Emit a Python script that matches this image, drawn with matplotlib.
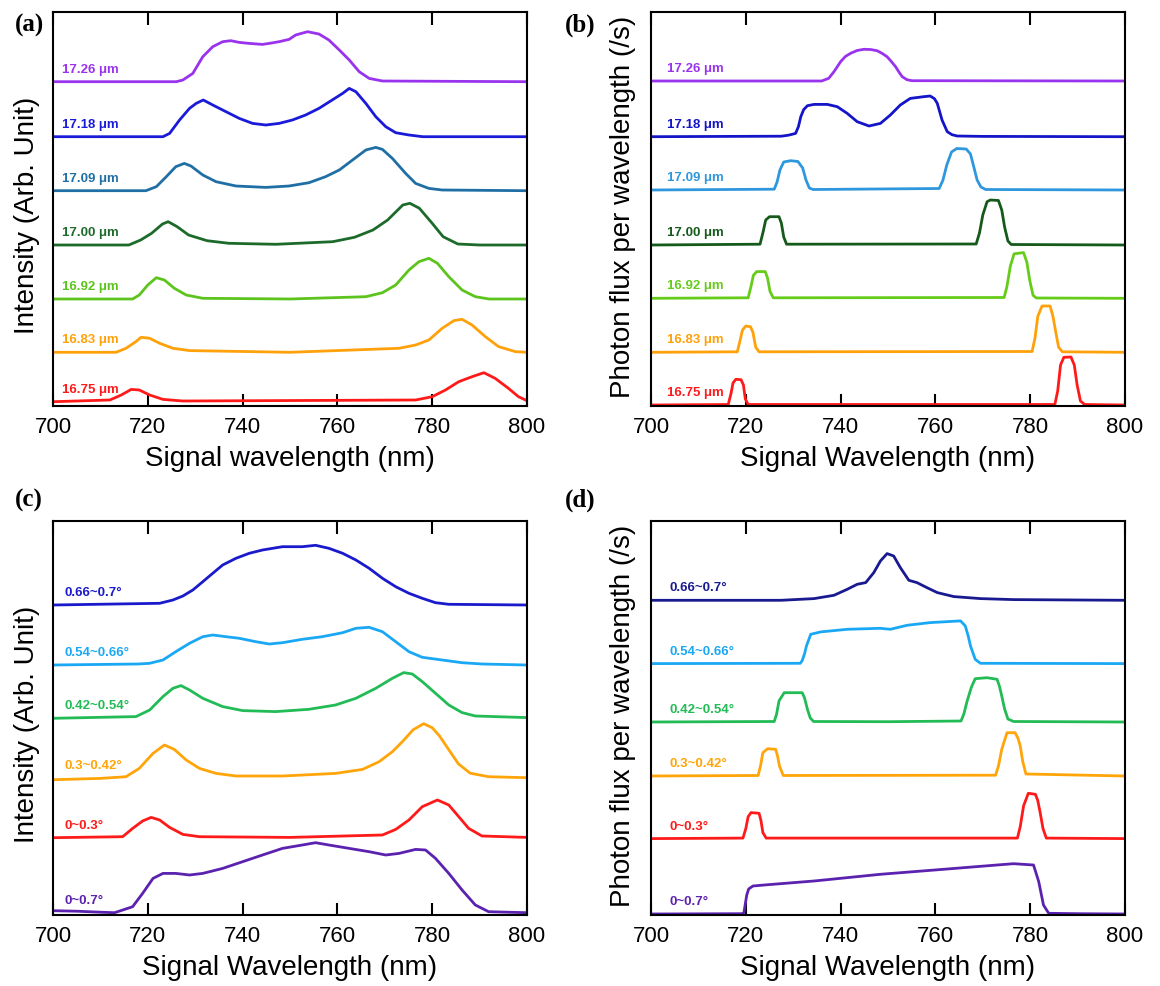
import numpy as np
import matplotlib.pyplot as plt

plt.rcParams['font.family'] = ['Liberation Sans', 'DejaVu Sans']

# ---------------- (a) measured spectra vs. poling period ----------------
a_labels = ['16.75 μm', '16.83 μm', '16.92 μm', '17.00 μm', '17.09 μm', '17.18 μm', '17.26 μm']
a_colors = ['#ff1a1a', '#ffa10a', '#5cc41c', '#1d6b2a', '#1f6fa5', '#1a1ad9', '#9933ee']
a_offsets = [4.3, 53.7, 107, 161, 215.3, 269.3, 324.3]

a_1675_x = [700, 712, 714.4, 716.5, 718.2, 720.4, 723.2, 727.4, 776.5, 780, 782.8, 785.6, 788.4, 790.9, 793.3, 796.1, 798.2, 800]
a_1675_y = [0, 1.7, 6.7, 12.3, 11.7, 6.7, 2.3, 0.7, 1.7, 5, 11.7, 20, 25, 29, 23.3, 13.3, 5, 1]
a_1683_x = [700, 713.3, 715.4, 717.5, 718.6, 720.4, 722.5, 725.3, 728.8, 750, 773, 776.5, 779.3, 782.1, 784.6, 786.3, 788.4, 791.2, 794, 797.5, 800]
a_1683_y = [0, 0, 4, 10.7, 15, 14, 9, 4, 1.7, 0, 4, 7.3, 12.3, 24, 31.7, 33, 27.3, 15.7, 5.7, 0.7, 0]
a_1692_x = [700, 716.8, 718.2, 720, 721.8, 723.5, 725.6, 728.1, 731.6, 750, 766, 769.5, 772.3, 775.1, 777.2, 779.3, 781.1, 783.5, 786.3, 789.1, 792, 800]
a_1692_y = [0, 0, 4, 14, 21.3, 19, 10.7, 4, 0.7, 0, 2.3, 6.3, 14, 29, 37.3, 40.7, 35.7, 22.3, 9, 2.3, 0, 0]
a_1700_x = [700, 716, 718.5, 720.8, 723.1, 724.3, 726.2, 728.6, 732.5, 737.1, 747, 759, 763.6, 767.5, 770.6, 773.8, 775.3, 777.3, 780, 782.3, 785.4, 790, 800]
a_1700_y = [0, 0, 5, 11.7, 21, 23.3, 18.3, 10, 4.3, 1.7, 0.7, 3.3, 7.7, 15, 25, 40, 41.7, 36.7, 21.7, 8.3, 1, 0, 0]
a_1709_x = [700, 719.6, 721.8, 723.9, 725.9, 727.7, 729.1, 731.6, 734.4, 738.6, 744.9, 749.8, 754, 757.5, 760.4, 763.2, 766, 768.1, 769.5, 771.6, 774.4, 776.5, 779.3, 782.1, 800]
a_1709_y = [0, 0, 4, 14, 24, 27.3, 24.7, 15.7, 9, 4.7, 3.3, 4.7, 8, 14, 20.7, 30.7, 40.7, 43.3, 41.3, 32.3, 17.3, 7.3, 2.3, 0.7, 0]
a_1718_x = [700, 723.2, 724.6, 726.7, 728.8, 730.2, 731.7, 733.7, 736.5, 739.3, 742.1, 744.9, 747.7, 750.5, 753.3, 756.1, 758.9, 761.1, 762.5, 763.9, 766, 768.1, 770.2, 772.3, 775.1, 778, 800]
a_1718_y = [0, 0, 3.3, 16.7, 28.3, 33.3, 36.7, 31.7, 25, 18.3, 13.3, 11.7, 13.3, 16.7, 21.7, 28.3, 36.7, 43.3, 48.3, 45, 33.3, 20, 10, 4, 1.7, 0, 0]
a_1726_x = [700, 726, 727.4, 729.5, 731.6, 733.7, 735.8, 737.5, 739.3, 741.4, 744.2, 745.6, 747.7, 749.8, 751.2, 753.7, 756.1, 758.2, 760.4, 762.5, 764.6, 766.7, 769.5, 800]
a_1726_y = [0, 0, 1.7, 8.3, 25, 35, 40, 41, 39.3, 38.3, 37.3, 38.3, 40, 42.3, 46.7, 50, 47.7, 41.7, 31.7, 21.7, 10, 3.3, 0.7, 0]

# ---------------- (b) simulated photon flux vs. poling period ----------------
b_labels = a_labels
b_colors = ['#ff1a1a', '#ffa10a', '#66cc1a', '#155a1a', '#2e97dd', '#1414c8', '#9933ee']
b_offsets = [1, 53.7, 107.7, 161, 216, 269.3, 325]

b_1675_x = [700, 716.3, 716.9, 717.3, 717.9, 719.0, 719.5, 719.9, 720.5, 785.2, 785.8, 786.4, 787.1, 788.6, 789.3, 789.9, 790.6, 791.5, 800]
b_1675_y = [0, 0.5, 12, 22, 25.7, 25.3, 20, 6, 0.5, 0.5, 14, 40, 47.7, 48, 40, 20, 4, 0.5, 0]
b_1683_x = [700, 718.2, 718.8, 719.3, 720, 721, 721.5, 722.1, 722.8, 780.4, 781, 781.6, 782.5, 784.2, 784.8, 785.4, 786, 786.8, 800]
b_1683_y = [0, 0.5, 12, 22.3, 26.3, 25.5, 20, 5, 0.5, 0.8, 14, 36, 46.3, 46.3, 36, 20, 5, 0.5, 0]
b_1692_x = [700, 720.5, 721.1, 721.6, 722.3, 724.1, 724.6, 725.1, 725.8, 774.5, 775.1, 775.8, 776.6, 778.6, 779.3, 779.9, 780.6, 781.3, 800]
b_1692_y = [0, 0.5, 12, 23, 26.7, 26.7, 20, 7, 0.5, 0.8, 12, 32, 44.5, 45.7, 36, 18, 3, 0.3, 0]
b_1700_x = [700, 723, 723.6, 724.2, 725, 727, 727.5, 728, 728.6, 768.6, 769.3, 770, 770.9, 771.6, 773.3, 774, 774.6, 775.3, 776, 800]
b_1700_y = [0, 0.8, 12, 25, 28.3, 28.3, 22, 8, 0.8, 1, 12, 30, 43.3, 45, 44.5, 35, 18, 4, 0.5, 0]
b_1709_x = [700, 726, 726.6, 727.2, 728, 729.5, 731, 732, 732.7, 733.4, 734.2, 760.8, 761.6, 762.4, 763.4, 764.5, 766.5, 767.4, 768, 768.8, 769.6, 770.6, 800]
b_1709_y = [0, 0.8, 8, 20, 28, 29.3, 28.5, 22, 10, 2, 0.5, 1.5, 10, 25, 38, 41.5, 41, 36, 25, 10, 3, 0.5, 0]
b_1718_x = [700, 727.5, 729, 730.5, 731.1, 731.6, 732.2, 733, 734.4, 737.2, 739.3, 741.4, 743.5, 746, 748.4, 750.5, 752.6, 754.7, 757.5, 758.9, 759.8, 760.4, 761.4, 762.5, 763.5, 764.6, 770, 800]
b_1718_y = [0, 0.5, 1.5, 3.3, 10, 20, 27, 31, 32.3, 32.3, 30, 23.3, 15, 10.7, 13.3, 21.7, 31.7, 38.3, 40, 40.7, 38, 33.3, 16.7, 5, 2, 0.7, 0.3, 0]
b_1726_x = [700, 736, 737.5, 738.6, 740, 741, 742.1, 743.5, 744.9, 746.3, 747.7, 748.8, 749.8, 750.7, 751.6, 752.3, 753, 754, 755, 800]
b_1726_y = [0, 0, 2.7, 9.3, 19.3, 24.5, 27.7, 30.5, 31.7, 31.5, 30.3, 27.5, 24.3, 19.5, 14.3, 9, 4.3, 1.3, 0.3, 0]

# ---------------- (c) measured spectra vs. collection angle ----------------
c_labels = ['0~0.7°', '0~0.3°', '0.3~0.42°', '0.42~0.54°', '0.54~0.66°', '0.66~0.7°']
c_colors = ['#5b22b0', '#ff1a1a', '#ffa50a', '#22bb55', '#1aa8f5', '#1a1acc']
c_offsets = [2.3, 77.3, 137.3, 196.7, 250, 310]

c_a1_x = [700, 705, 710, 713, 716.8, 718.9, 721.1, 723.2, 725.9, 728.8, 731.6, 735.8, 740, 744.2, 748.4, 752.6, 755.4, 758.2, 762.5, 766.7, 770.2, 773, 776.5, 778.6, 780.7, 783.5, 786.3, 789.1, 791.9, 800]
c_a1_y = [2, 1.5, 0.5, 0, 6, 19.3, 34.3, 39.3, 39.3, 37.7, 39.3, 44.3, 51, 57.7, 64.3, 67.7, 70, 67.7, 64.3, 61, 57.7, 59.3, 63.3, 62.7, 54.3, 39.3, 22.7, 7.7, 1, 0]
c_a2_x = [700, 714.7, 716.8, 718.9, 720.7, 722.5, 724.6, 727.4, 730.9, 750, 769.5, 772.3, 775.1, 777.9, 781.1, 783.5, 785.6, 787.7, 790.5, 800]
c_a2_y = [0, 1, 9.3, 16.7, 20.3, 17.7, 10.3, 3.3, 1, 0.3, 2.7, 8.3, 17.7, 31, 37.7, 32.7, 21, 9.3, 1.7, 0.3]
c_a3_x = [700, 710, 715.4, 718.2, 721.1, 723.5, 725.6, 728.1, 730.9, 734.4, 738.6, 748.4, 759.6, 765.3, 768.8, 771.6, 773.7, 776, 778.2, 780, 781.5, 783.5, 785.5, 788, 791.9, 800]
c_a3_y = [-2, -0.7, 1, 9.3, 24.3, 32.7, 28.3, 17.7, 9.3, 4.3, 1.7, 1.7, 4.3, 8.3, 16, 26, 36, 48, 54, 50, 42, 28, 14, 4.5, 1, 0]
c_a4_x = [700, 717.5, 720.4, 723.2, 725.3, 727, 728.8, 731.6, 735.8, 740, 747, 754, 759.6, 763.9, 768.1, 771.6, 774, 775.8, 777.9, 780.7, 783.5, 786.3, 789.1, 800]
c_a4_y = [0, 1.7, 8.3, 21.7, 30, 32.7, 28.3, 20, 11.7, 7.7, 6.7, 9, 13.3, 20, 30, 40, 45.7, 44.3, 36.7, 25, 13.3, 5.7, 2.3, 0.7]
c_a5_x = [700, 718, 720.4, 723.2, 725.9, 728.8, 731.6, 733.7, 736.5, 739.3, 742.8, 745.6, 748.4, 752.6, 756.8, 761.1, 763.9, 766.7, 769.5, 772.3, 775.1, 777.9, 782.1, 786.3, 790.5, 800]
c_a5_y = [0, 1, 1.7, 5, 13.3, 21.7, 28.3, 30, 28.3, 26.7, 23.3, 21, 22.3, 25.7, 28.3, 32.3, 36.7, 37.7, 33.3, 23.3, 13.3, 7.7, 5, 2.3, 1, 0]
c_a6_x = [700, 722.5, 725.3, 727.4, 729.5, 731.6, 733.7, 735.8, 738.6, 741.4, 744.2, 748.4, 752.6, 755.4, 758.2, 761.1, 763.9, 766.7, 769.5, 772.3, 775.1, 777.9, 780.7, 783.5, 800]
c_a6_y = [0, 1.7, 5, 9, 15, 23.3, 31.7, 40, 46.7, 51.7, 55, 58.3, 58.3, 59.7, 56.7, 51.7, 45, 36.7, 26.7, 18.3, 11.7, 6.7, 2.3, 0.7, 0]

# ---------------- (d) simulated photon flux vs. collection angle ----------------
d_labels = c_labels
d_colors = ['#5b22b0', '#ff1a1a', '#ffa50a', '#22bb55', '#1aa8f5', '#1a1a90']
d_offsets = [1, 76.4, 139, 193, 251.4, 314.7]

d_a1_x = [700, 719.2, 719.6, 720.2, 720.6, 721.5, 723.9, 734.4, 748.4, 762.5, 773, 776.5, 780.7, 781.8, 782.8, 783.9, 790, 800]
d_a1_y = [0, 0.3, 1.3, 19, 25, 28, 29, 33, 39.7, 45, 49, 50.3, 49, 32.3, 9, 0.7, 0.3, 0]
d_a2_x = [700, 719.4, 720, 720.5, 721.1, 722.8, 723.2, 723.6, 724.3, 777.3, 777.9, 778.6, 779.6, 781.1, 781.6, 782.1, 782.7, 783.4, 800]
d_a2_y = [0, 0.5, 10, 22, 26, 25.3, 18, 6, 0.5, 0.5, 12, 32.7, 45.3, 44.3, 38, 26, 10, 0.5, 0]
d_a3_x = [700, 722.6, 723.1, 723.6, 724.6, 726.3, 726.7, 727.1, 727.9, 772.7, 773.3, 774, 775.1, 776.8, 777.4, 777.9, 778.4, 779.1, 800]
d_a3_y = [0, 0.5, 10, 23.3, 27.3, 26.7, 20, 10, 0.5, 0.8, 10, 26.7, 43.3, 43.3, 38, 30, 15, 2, 0]
d_a4_x = [700, 726, 726.5, 727, 728.1, 731.9, 732.4, 733, 733.6, 734.3, 750, 765.4, 766, 766.7, 767.6, 768.4, 770.9, 773, 773.5, 774, 774.6, 775.3, 776.5, 800]
d_a4_y = [0, 0.5, 8, 21, 29.3, 29.3, 24, 12.7, 4, 0.5, 0.3, 1, 8, 21, 35, 43.3, 44.3, 42.7, 36, 26, 13, 3, 0.5, 0]
d_a5_x = [700, 731.5, 731.9, 732.4, 732.8, 733.7, 735.8, 741.4, 748.4, 750.5, 754, 758.9, 765.3, 766.3, 766.9, 767.4, 768.4, 769.5, 800]
d_a5_y = [0, 0.3, 3, 10, 17.7, 29.3, 31.7, 34.3, 35.3, 34.3, 38.3, 41, 42.7, 37.7, 28, 17.7, 4.3, 0.3, 0]
d_a6_x = [700, 727.4, 734.4, 738.6, 741.4, 743.5, 745.3, 747, 748.4, 749.8, 751.2, 752.6, 754.4, 756.1, 758.2, 760.4, 763.9, 769.5, 776.5, 800]
d_a6_y = [0, 0, 1.7, 5, 11, 16, 17.7, 27.7, 39.3, 46.7, 44.3, 32.7, 20, 17.7, 12.7, 7.7, 3.7, 1.7, 0.7, 0]

panels = [
    ('(a)', 'Signal wavelength (nm)', 'Intensity (Arb. Unit)', a_labels, a_colors, a_offsets, 702.0,
     [(a_1675_x, a_1675_y), (a_1683_x, a_1683_y), (a_1692_x, a_1692_y), (a_1700_x, a_1700_y),
      (a_1709_x, a_1709_y), (a_1718_x, a_1718_y), (a_1726_x, a_1726_y)]),
    ('(b)', 'Signal Wavelength (nm)', 'Photon flux per wavelength (/s)', b_labels, b_colors, b_offsets, 703.3,
     [(b_1675_x, b_1675_y), (b_1683_x, b_1683_y), (b_1692_x, b_1692_y), (b_1700_x, b_1700_y),
      (b_1709_x, b_1709_y), (b_1718_x, b_1718_y), (b_1726_x, b_1726_y)]),
    ('(c)', 'Signal Wavelength (nm)', 'Intensity (Arb. Unit)', c_labels, c_colors, c_offsets, 702.5,
     [(c_a1_x, c_a1_y), (c_a2_x, c_a2_y), (c_a3_x, c_a3_y), (c_a4_x, c_a4_y), (c_a5_x, c_a5_y), (c_a6_x, c_a6_y)]),
    ('(d)', 'Signal Wavelength (nm)', 'Photon flux per wavelength (/s)', d_labels, d_colors, d_offsets, 704.0,
     [(d_a1_x, d_a1_y), (d_a2_x, d_a2_y), (d_a3_x, d_a3_y), (d_a4_x, d_a4_y), (d_a5_x, d_a5_y), (d_a6_x, d_a6_y)]),
]

W, H = 1160, 986
fig = plt.figure(figsize=(W / 100, H / 100), dpi=100)
# axes boxes in pixels: left, top, width, height
boxes = [(53, 12, 474, 394), (651, 12, 474, 394), (53, 521, 474, 394), (651, 521, 474, 394)]
tag_pos = [(15, 25), (565, 25), (15, 500), (565, 500)]
ylab_pos = [(-0.028, 0.485), (-0.032, 0.505), (-0.028, 0.485), (-0.032, 0.505)]

for (tag, xlab, ylab, labels, colors, offsets, xtxt, curves), (l, t, w, h), (tx, ty), (yx, yy) in zip(
        panels, boxes, tag_pos, ylab_pos):
    ax = fig.add_axes([l / W, (H - t - h) / H, w / W, h / H])
    for (x, y), off, col, lab in zip(curves, offsets, colors, labels):
        ax.plot(x, np.array(y) + off, color=col, lw=2.0, solid_joinstyle='round')
        ax.text(xtxt, off + 6, lab, color=col, fontsize=9.5, fontweight='bold', va='bottom', ha='left')
    ax.set_xlim(700, 800)
    ax.set_ylim(0, 394)
    ax.set_xticks([700, 720, 740, 760, 780, 800])
    ax.set_yticks([])
    ax.tick_params(axis='x', direction='in', top=True, length=9, width=1.5, labelsize=16, pad=8)
    for s in ax.spines.values():
        s.set_linewidth(1.5)
    ax.set_xlabel(xlab, fontsize=20, labelpad=6)
    ax.set_ylabel(ylab, fontsize=20)
    ax.yaxis.set_label_coords(yx, yy)
    fig.text(tx / W, 1 - ty / H, tag, fontsize=18, fontweight='bold', family='Liberation Serif',
             va='center', ha='left')

fig.savefig('out.png', dpi=100)
